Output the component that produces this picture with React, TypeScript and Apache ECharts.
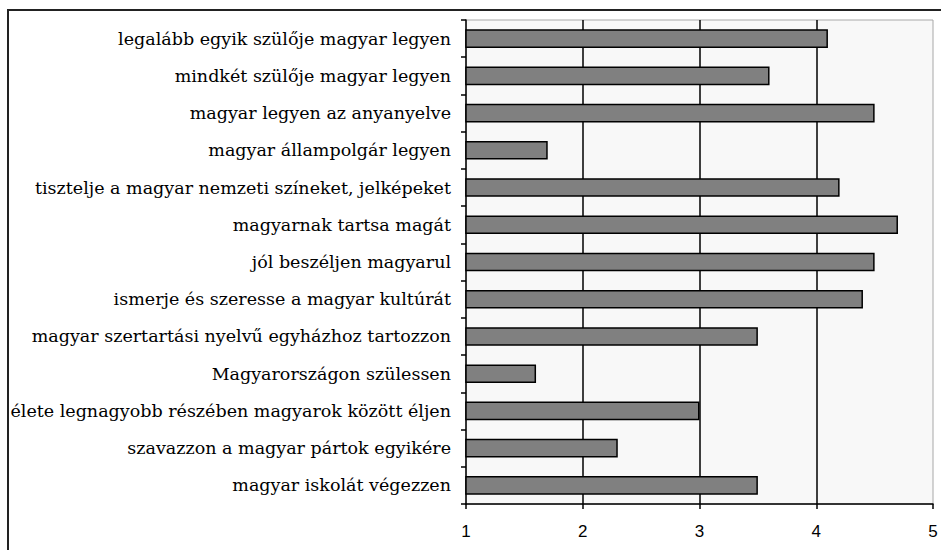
import React, { useEffect, useRef } from "react";
import * as echarts from "echarts";

const categories = [
  "legalább egyik szülője magyar legyen",
  "mindkét szülője magyar legyen",
  "magyar legyen az anyanyelve",
  "magyar állampolgár legyen",
  "tisztelje a magyar nemzeti színeket, jelképeket",
  "magyarnak tartsa magát",
  "jól beszéljen magyarul",
  "ismerje és szeresse a magyar kultúrát",
  "magyar szertartási nyelvű egyházhoz tartozzon",
  "Magyarországon szülessen",
  "élete legnagyobb részében magyarok között éljen",
  "szavazzon a magyar pártok egyikére",
  "magyar iskolát végezzen",
];
const values = [4.1, 3.6, 4.5, 1.7, 4.2, 4.7, 4.5, 4.4, 3.5, 1.6, 3.0, 2.3, 3.5];
const xTicks = [1, 2, 3, 4, 5];

export default function App() {
  const ref = useRef<HTMLDivElement>(null);
  useEffect(() => {
    document.body.style.margin = "0";
    if (!ref.current) return;
    const chart = echarts.init(ref.current, undefined, { renderer: "svg" });
    chart.setOption({
      animation: false,
      backgroundColor: "#ffffff",
      graphic: [
        {
          type: "rect",
          shape: { x: 8, y: 10, width: 945, height: 560 },
          style: { fill: "none", stroke: "#222", lineWidth: 2 },
          silent: true,
          z: 100,
        },
      ],
      grid: {
        left: 466,
        right: 8,
        top: 20,
        bottom: 46,
        show: true,
        backgroundColor: "#f8f8f8",
        borderColor: "#a8a8a8",
        borderWidth: 1,
      },
      xAxis: {
        type: "value",
        min: xTicks[0],
        max: xTicks[xTicks.length - 1],
        interval: 1,
        axisLine: { show: true, lineStyle: { color: "#000", width: 1.5 } },
        axisTick: { show: true, length: 5, lineStyle: { color: "#000", width: 1.5 } },
        axisLabel: {
          margin: 19,
          color: "#000",
          fontFamily: "Liberation Sans",
          fontSize: 17,
        },
        splitLine: {
          show: true,
          showMinLine: false,
          showMaxLine: false,
          lineStyle: { color: "#000", width: 1.5 },
        },
      },
      yAxis: {
        type: "category",
        inverse: true,
        data: categories,
        axisLine: { show: true, lineStyle: { color: "#000", width: 1.5 } },
        axisTick: { show: true, length: 5, lineStyle: { color: "#000", width: 1.5 } },
        axisLabel: {
          margin: 15,
          color: "#000",
          fontFamily: "DejaVu Serif",
          fontSize: 17.5,
        },
      },
      series: [
        {
          type: "bar",
          data: values,
          barWidth: "50%",
          itemStyle: { color: "#808080", borderColor: "#000", borderWidth: 1.5 },
        },
      ],
    });
    return () => chart.dispose();
  }, []);
  return <div ref={ref} style={{ width: 941, height: 550 }} />;
}
